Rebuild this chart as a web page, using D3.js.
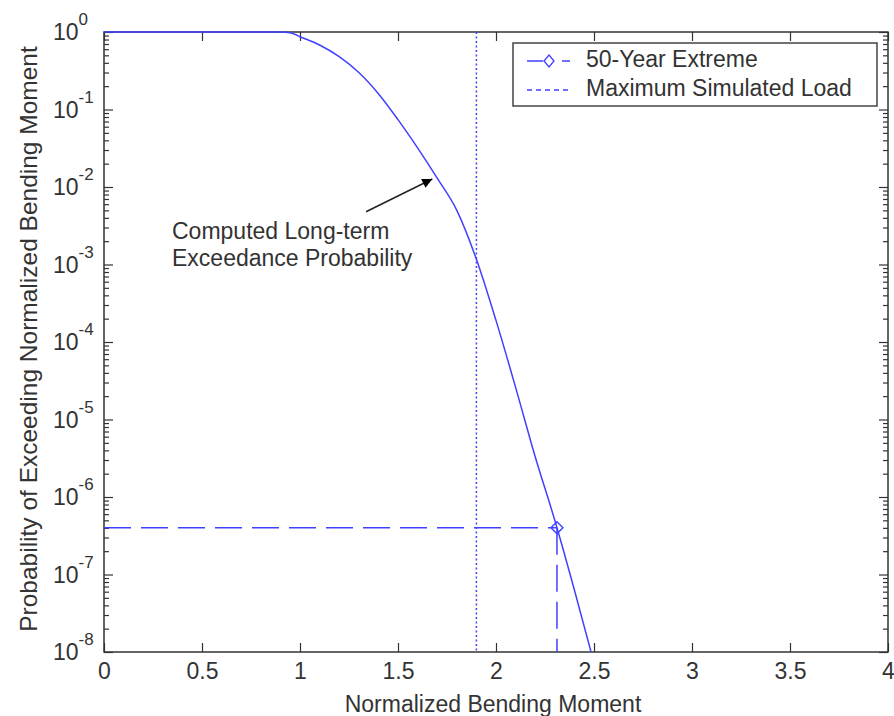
<!DOCTYPE html>
<html>
<head>
<meta charset="utf-8">
<script src="https://cdn.jsdelivr.net/npm/d3@7"></script>
<style>
  html, body { margin: 0; padding: 0; background: #fff; }
  svg { display: block; }
  text { font-family: "Liberation Sans", Arial, Helvetica, sans-serif; fill: #333; }
</style>
</head>
<body>
<svg id="chart" width="894" height="716"></svg>
<script>
// ---- data ----
const momentX = [0, 0.5, 0.9, 0.95, 1.0, 1.1, 1.2, 1.3, 1.4, 1.5, 1.6, 1.7, 1.8, 1.9, 2.0, 2.1, 2.2, 2.3, 2.4, 2.485];
const exceedProb = [1, 1, 1, 0.98, 0.87, 0.68, 0.48, 0.30, 0.16, 0.074, 0.032, 0.013, 0.0050, 1.17e-3, 1.9e-4, 2.6e-5, 3.3e-6, 5.0e-7, 6.3e-8, 1e-8];
const extremeX = 2.311;
const extremeP = 4e-7;
const maxSimulatedLoad = 1.9;
const xTicks = [0, 0.5, 1, 1.5, 2, 2.5, 3, 3.5, 4];
const yDecades = [1e-8, 1e-7, 1e-6, 1e-5, 1e-4, 1e-3, 1e-2, 1e-1, 1];
const yExponents = [-8, -7, -6, -5, -4, -3, -2, -1, 0];
const legendLabels = ["50-Year Extreme", "Maximum Simulated Load"];
const annotationLines = ["Computed Long-term", "Exceedance Probability"];
const arrowTip = [1.675, 0.0127];
const arrowTail = [1.337, 0.0048];
const annotationAt = [0.347, 0.00213];

// ---- layout ----
const L = 104, R = 888, T = 32, B = 652;
const svg = d3.select("#chart");
const x = d3.scaleLinear().domain([0, 4]).range([L, R]);
const y = d3.scaleLog().domain([1e-8, 1]).range([B, T]);
const axisColor = "#333";
const lineColor = "#4040ff";
const fontSize = 23;

// minor ticks for log axis
const yMinor = [];
yDecades.slice(0, -1).forEach(d => { for (let k = 2; k <= 9; k++) yMinor.push(d * k); });

// axes
function styleAxis(g) {
  g.select(".domain").remove();
  g.selectAll(".tick line").attr("stroke", axisColor).attr("stroke-width", 1.2);
}
svg.append("g").attr("transform", `translate(0,${B})`)
  .call(d3.axisBottom(x).tickValues(xTicks).tickSize(-9).tickFormat(d3.format("")))
  .call(styleAxis)
  .call(g => g.selectAll("text").attr("dy", null).attr("y", 27)
    .attr("font-size", fontSize).attr("font-family", "Liberation Sans, Arial, sans-serif").attr("fill", "#333"));
svg.append("g").attr("transform", `translate(0,${T})`)
  .call(d3.axisTop(x).tickValues(xTicks).tickSize(-9).tickFormat(""))
  .call(styleAxis);
svg.append("g").attr("transform", `translate(${L},0)`)
  .call(d3.axisLeft(y).tickValues(yDecades).tickSize(-9).tickFormat(""))
  .call(styleAxis);
svg.append("g").attr("transform", `translate(${L},0)`)
  .call(d3.axisLeft(y).tickValues(yMinor).tickSize(-5).tickFormat(""))
  .call(styleAxis);
svg.append("g").attr("transform", `translate(${R},0)`)
  .call(d3.axisRight(y).tickValues(yDecades).tickSize(-9).tickFormat(""))
  .call(styleAxis);
svg.append("g").attr("transform", `translate(${R},0)`)
  .call(d3.axisRight(y).tickValues(yMinor).tickSize(-5).tickFormat(""))
  .call(styleAxis);

// y tick labels (10^n)
const yl = svg.append("g").selectAll("text").data(yDecades).join("text")
  .attr("x", 53).attr("y", d => y(d) + 8)
  .attr("font-size", fontSize);
yl.append("tspan").text("10");
yl.append("tspan").attr("dy", -15).attr("font-size", 17).text((d, i) => yExponents[i]);

// box
svg.append("rect").attr("x", L).attr("y", T).attr("width", R - L).attr("height", B - T)
  .attr("fill", "none").attr("stroke", axisColor).attr("stroke-width", 1.5);

// max simulated load (dotted)
svg.append("line")
  .attr("x1", x(maxSimulatedLoad)).attr("x2", x(maxSimulatedLoad))
  .attr("y1", y(1)).attr("y2", y(1e-8))
  .attr("stroke", lineColor).attr("stroke-width", 1.5).attr("stroke-dasharray", "2,2.5");

// 50-year extreme dashed guides
svg.append("path")
  .attr("d", `M${x(0)},${y(extremeP)}H${x(extremeX)}`)
  .attr("stroke", lineColor).attr("stroke-width", 1.5).attr("fill", "none").attr("stroke-dasharray", "27,10");
svg.append("path")
  .attr("d", `M${x(extremeX)},${y(extremeP)}V${y(1e-8)}`)
  .attr("stroke", lineColor).attr("stroke-width", 1.5).attr("fill", "none").attr("stroke-dasharray", "27,10");

// curve
const pts = momentX.map((v, i) => [v, exceedProb[i]]);
svg.append("path").datum(pts)
  .attr("d", d3.line().x(d => x(d[0])).y(d => y(d[1])).curve(d3.curveMonotoneX))
  .attr("fill", "none").attr("stroke", lineColor).attr("stroke-width", 1.5);

// diamond marker
const dm = 6;
function diamond(cx, cy) { return `M${cx},${cy - dm}L${cx + dm},${cy}L${cx},${cy + dm}L${cx - dm},${cy}Z`; }
svg.append("path").attr("d", diamond(x(extremeX), y(extremeP)))
  .attr("fill", "none").attr("stroke", lineColor).attr("stroke-width", 1.4);

// annotation
svg.append("defs").append("marker").attr("id", "arrow")
  .attr("viewBox", "0 0 10 10").attr("refX", 10).attr("refY", 5)
  .attr("markerWidth", 14).attr("markerHeight", 10).attr("markerUnits", "userSpaceOnUse")
  .attr("orient", "auto")
  .append("path").attr("d", "M0,0L10,5L0,10Z").attr("fill", "#000");
svg.append("line")
  .attr("x1", x(arrowTail[0])).attr("y1", y(arrowTail[1]))
  .attr("x2", x(arrowTip[0])).attr("y2", y(arrowTip[1]))
  .attr("stroke", "#222").attr("stroke-width", 1.5).attr("marker-end", "url(#arrow)");
svg.append("g").selectAll("text").data(annotationLines).join("text")
  .attr("x", x(annotationAt[0])).attr("y", (d, i) => y(annotationAt[1]) + i * 27)
  .attr("font-size", fontSize).text(d => d);

// legend
const lg = svg.append("g");
lg.append("rect").attr("x", 513).attr("y", 43).attr("width", 364).attr("height", 63)
  .attr("fill", "#fff").attr("stroke", "#444").attr("stroke-width", 1.5);
lg.append("line").attr("x1", 527).attr("x2", 543).attr("y1", 61).attr("y2", 61)
  .attr("stroke", lineColor).attr("stroke-width", 1.5);
lg.append("path").attr("d", `M549,${61 - 6}L554,61L549,${61 + 6}L544,61Z`)
  .attr("fill", "none").attr("stroke", lineColor).attr("stroke-width", 1.3);
lg.append("line").attr("x1", 562).attr("x2", 570).attr("y1", 61).attr("y2", 61)
  .attr("stroke", lineColor).attr("stroke-width", 1.5);
lg.append("line").attr("x1", 527).attr("x2", 570).attr("y1", 90).attr("y2", 90)
  .attr("stroke", lineColor).attr("stroke-width", 1.5).attr("stroke-dasharray", "5,4");
lg.selectAll("text").data(legendLabels).join("text")
  .attr("x", 586).attr("y", (d, i) => 67 + i * 29).attr("font-size", fontSize).text(d => d);

// axis titles
svg.append("text").attr("x", (L + R) / 2 - 3).attr("y", 712).attr("text-anchor", "middle")
  .attr("font-size", fontSize).text("Normalized Bending Moment");
svg.append("text").attr("transform", `translate(37,${(T + B) / 2 - 3}) rotate(-90)`)
  .attr("text-anchor", "middle").attr("font-size", 24.5)
  .text("Probability of Exceeding Normalized Bending Moment");
</script>
</body>
</html>
